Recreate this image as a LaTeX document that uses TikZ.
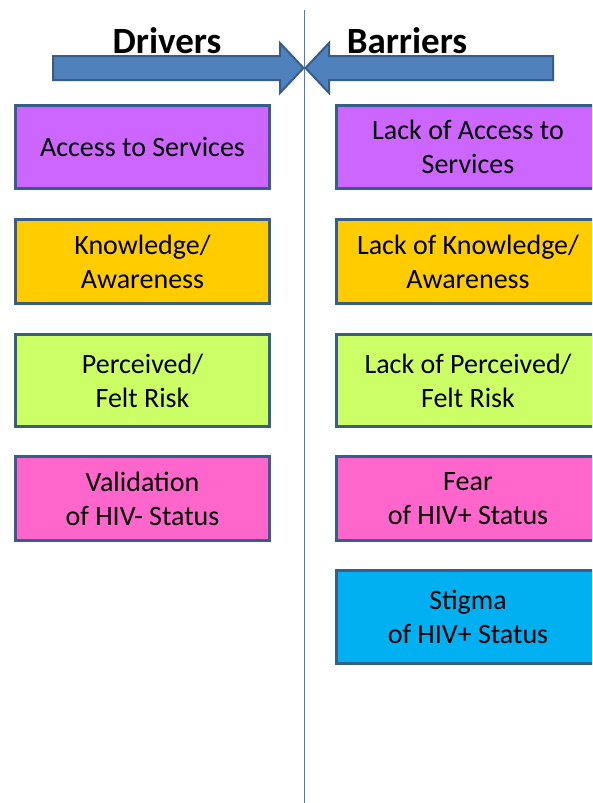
\documentclass[tikz,border=0pt]{standalone}
\usepackage{fontspec}
\setmainfont{Carlito}
\usetikzlibrary{positioning}
\definecolor{boxline}{RGB}{56,93,138}
\definecolor{arrowfill}{RGB}{79,129,189}
\definecolor{divline}{RGB}{74,126,187}
\definecolor{cPurple}{RGB}{204,102,255}
\definecolor{cYellow}{RGB}{255,204,0}
\definecolor{cGreen}{RGB}{204,255,102}
\definecolor{cPink}{RGB}{255,102,204}
\definecolor{cCyan}{RGB}{0,176,240}
\tikzset{
	factor/.style={draw=boxline, line width=3pt, fill=#1, minimum width=254pt, align=center, inner sep=0pt, font=\fontsize{28}{34}\selectfont},
	factorR/.style={factor=#1, minimum width=263pt},
	heading/.style={anchor=base, inner sep=0pt, font=\bfseries\fontsize{37}{44}\selectfont},
	bigarrow/.style={fill=arrowfill, draw=boxline, line width=2pt, line join=miter},
	divider/.style={draw=divline, line width=1.2pt}
}
\begin{document}
\begin{tikzpicture}[x=1pt, y=-1pt]
\clip (0,0) rectangle (592,803);
% divider and headings
\coordinate (top) at (304.5,10);
\coordinate (bottom) at (304.5,803);
\draw [divider] (top) -- (bottom);
\node [heading] (drivers) at (167,53) {Drivers};
\node [heading] (barriers) at (407,53) {Barriers};
% block arrows
\draw [bigarrow] (53,56) -- (280,56) -- (280,43) -- (303.5,68) -- (280,93) -- (280,80) -- (53,80) -- cycle;
\draw [bigarrow] (553,56) -- (329,56) -- (329,43) -- (305.5,68) -- (329,93) -- (329,80) -- (553,80) -- cycle;
% drivers
\node [factor=cPurple, minimum height=83pt] (access) at (142.5,147) {Access to Services};
\node [factor=cYellow, minimum height=84pt] (know) at (142.5,261.5) {Knowledge/\\Awareness};
\node [factor=cGreen, minimum height=92pt] (risk) at (142.5,380.5) {Perceived/\\Felt Risk};
\node [factor=cPink, minimum height=84pt] (valid) at (142.5,498.5) {Validation\\of HIV- Status};
% barriers
\node [factorR=cPurple, minimum height=83pt, right=64pt of access] (accessR) {Lack of Access to\\Services};
\node [factorR=cYellow, minimum height=84pt, right=64pt of know] (knowR) {Lack of Knowledge/\\Awareness};
\node [factorR=cGreen, minimum height=92pt, right=64pt of risk] (riskR) {Lack of Perceived/\\Felt Risk};
\node [factorR=cPink, minimum height=84pt, right=64pt of valid] (fearR) {Fear\\of HIV+ Status};
\node [factorR=cCyan, minimum height=93pt, below=27pt of fearR] (stigmaR) {Stigma\\of HIV+ Status};
\end{tikzpicture}
\end{document}
